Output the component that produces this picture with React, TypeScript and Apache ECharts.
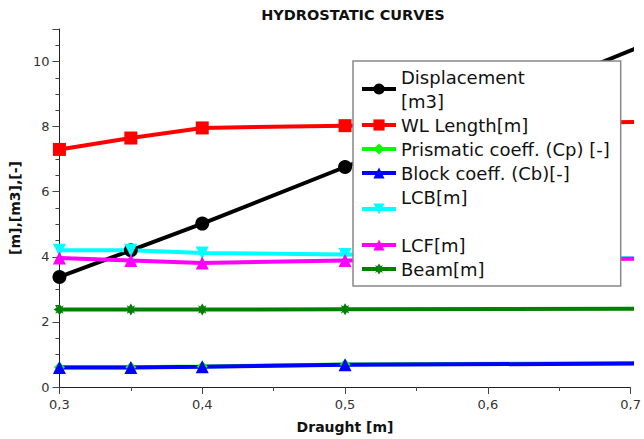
import React, { useEffect, useRef } from "react";
import * as echarts from "echarts";

const draught = [0.3, 0.35, 0.4, 0.5, 0.8];
const displacement = [3.38, 4.2, 5.02, 6.76, 12.13];
const wlLength = [7.3, 7.65, 7.96, 8.03, 8.2];
const prismatic = [0.61, 0.61, 0.63, 0.69, 0.75];
const block = [0.6, 0.6, 0.62, 0.68, 0.74];
const lcb = [4.2, 4.2, 4.12, 4.07, 3.9];
const lcf = [3.96, 3.89, 3.81, 3.89, 3.97];
const beam = [2.38, 2.38, 2.38, 2.39, 2.41];

const xTicks = { min: 0.3, max: 0.7, interval: 0.1 };
const yTicks = { min: 0, max: 11, interval: 2 };

const STAR = "path://M0,-10L3,-5L7,-7L5,-3L10,0L5,3L7,7L3,5L0,10L-3,5L-7,7L-5,3L-10,0L-5,-3L-7,-7L-3,-5Z";

const seriesDefs = [
  { name: "Displacement\n[m3]", data: displacement, color: "#000000", symbol: "circle", size: 14, rotate: 0 },
  { name: "WL Length[m]", data: wlLength, color: "#ff0000", symbol: "rect", size: 13, rotate: 0 },
  { name: "Prismatic coeff. (Cp) [-]", data: prismatic, color: "#00ff00", symbol: "diamond", size: 11, rotate: 0 },
  { name: "Block coeff. (Cb)[-]", data: block, color: "#0000ff", symbol: "triangle", size: 13, rotate: 0 },
  { name: "LCB[m]\n ", data: lcb, color: "#00ffff", symbol: "triangle", size: 13, rotate: 180 },
  { name: "LCF[m]", data: lcf, color: "#ff00ff", symbol: "triangle", size: 13, rotate: 0 },
  { name: "Beam[m]", data: beam, color: "#008000", symbol: STAR, size: 12, rotate: 0 },
];

const FONT = "DejaVu Sans";

export default function App() {
  const ref = useRef<HTMLDivElement>(null);
  useEffect(() => {
    if (!ref.current) return;
    const chart = echarts.init(ref.current, undefined, { renderer: "svg" });
    chart.setOption({
      animation: false,
      backgroundColor: "#ffffff",
      textStyle: { fontFamily: FONT },
      title: {
        text: "HYDROSTATIC CURVES",
        left: 348,
        textAlign: "center",
        top: 2,
        textStyle: { fontFamily: FONT, fontSize: 14.5, fontWeight: "bold", color: "#111" },
      },
      grid: { left: 55, right: 11, top: 29, bottom: 52, containLabel: false },
      legend: {
        orient: "vertical",
        left: 353,
        top: 61,
        z: 10,
        padding: [4, 11, 5, 7],
        itemGap: 0,
        itemWidth: 34,
        itemHeight: 14,
        backgroundColor: "#ffffff",
        borderColor: "#888888",
        borderWidth: 1.5,
        borderRadius: 0,
        lineStyle: { width: 4 },
        textStyle: { fontFamily: FONT, fontSize: 18, lineHeight: 24, color: "#111" },
        data: seriesDefs.map((s) => s.name),
      },
      xAxis: {
        type: "value",
        min: xTicks.min,
        max: xTicks.max,
        interval: xTicks.interval,
        name: "Draught [m]",
        nameLocation: "middle",
        nameGap: 33,
        nameTextStyle: { fontFamily: FONT, fontSize: 14, fontWeight: "bold", color: "#111" },
        axisLine: { show: true, lineStyle: { color: "#222", width: 1 } },
        axisTick: { show: true, length: 7, lineStyle: { color: "#444" } },
        minorTick: { show: true, splitNumber: 2, length: 4, lineStyle: { color: "#444" } },
        splitLine: { show: false },
        axisLabel: {
          fontFamily: FONT,
          fontSize: 13,
          color: "#333",
          margin: 11,
          formatter: (v: number) => v.toFixed(1).replace(".", ","),
        },
      },
      yAxis: {
        type: "value",
        min: yTicks.min,
        max: yTicks.max,
        interval: yTicks.interval,
        name: "[m],[m3],[-]",
        nameLocation: "middle",
        nameGap: 37,
        nameTextStyle: { fontFamily: FONT, fontSize: 14, fontWeight: "bold", color: "#111" },
        axisLine: { show: true, lineStyle: { color: "#222", width: 1 } },
        axisTick: { show: true, length: 7, lineStyle: { color: "#444" } },
        minorTick: { show: true, splitNumber: 4, length: 4, lineStyle: { color: "#444" } },
        splitLine: { show: false },
        axisLabel: {
          fontFamily: FONT,
          fontSize: 13,
          color: "#333",
          margin: 10,
          showMaxLabel: false,
        },
      },
      series: seriesDefs.map((s) => ({
        type: "line",
        name: s.name,
        data: draught.map((x, i) => [x, s.data[i]]),
        symbol: s.symbol,
        symbolSize: s.size,
        symbolRotate: s.rotate,
        showAllSymbol: true,
        clip: true,
        color: s.color,
        lineStyle: { color: s.color, width: 4 },
        itemStyle: { color: s.color, borderWidth: 0 },
      })),
    });
    return () => chart.dispose();
  }, []);
  return (
    <div
      ref={ref}
      style={{ position: "fixed", left: 0, top: 0, width: 644, height: 439 }}
    />
  );
}
